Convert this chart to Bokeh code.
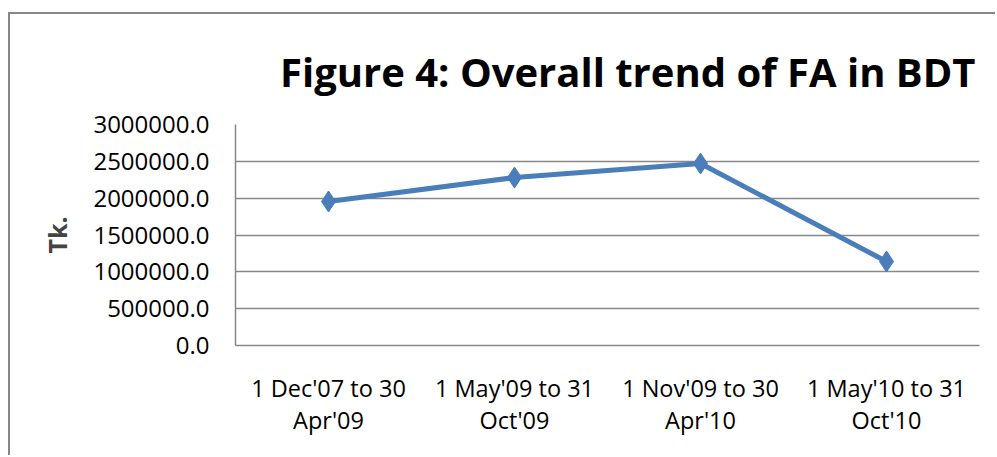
from bokeh.plotting import figure
from bokeh.models import FixedTicker, Range1d, ColumnDataSource
from bokeh.embed import file_html
from bokeh.resources import INLINE

categories = ["1 Dec'07 to 30\nApr'09", "1 May'09 to 31\nOct'09",
              "1 Nov'09 to 30\nApr'10", "1 May'10 to 31\nOct'10"]
values = [1955000.0, 2280000.0, 2470000.0, 1140000.0]
y_ticks = [0, 500000, 1000000, 1500000, 2000000, 2500000, 3000000]
title_text = "Figure 4: Overall trend of FA in BDT"
y_label = "Tk."

FONT = "Open Sans"
W, H = 987, 443

xs = [i + 0.5 for i in range(len(categories))]
src = ColumnDataSource(dict(x=xs, y=values))

p = figure(width=W, height=H, output_backend="svg", toolbar_location=None,
           x_range=Range1d(0, len(categories)), y_range=Range1d(0, 3000000),
           min_border_left=225, min_border_right=18, min_border_top=110,
           min_border_bottom=112, title=title_text)
p.styles = {"margin-top": "12px", "margin-left": "8px",
            "border-left": "2px solid #878787",
            "border-top": "2px solid #878787"}
p.outline_line_color = None
p.background_fill_color = "white"
p.border_fill_color = "white"

p.title.align = "right"
p.title.text_font = FONT
p.title.text_font_style = "bold"
p.title.text_font_size = "40px"
p.title.text_color = "black"
p.title.offset = 4
p.title.standoff = 52

p.xgrid.grid_line_color = None
p.ygrid.grid_line_color = "#878787"
p.ygrid.grid_line_width = 1.5

p.yaxis.ticker = FixedTicker(ticks=y_ticks)
p.yaxis.major_label_overrides = {t: f"{t:.1f}" for t in y_ticks}
p.yaxis.major_tick_line_color = None
p.yaxis.minor_tick_line_color = None
p.yaxis.axis_line_color = "#878787"
p.yaxis.axis_line_width = 1.5
p.yaxis.major_label_text_font = FONT
p.yaxis.major_label_text_font_size = "24px"
p.yaxis.major_label_text_color = "black"
p.yaxis.major_label_standoff = 20
p.yaxis.axis_label = y_label
p.yaxis.axis_label_text_font = FONT
p.yaxis.axis_label_text_font_style = "bold"
p.yaxis.axis_label_text_font_size = "25px"
p.yaxis.axis_label_standoff = 16

p.xaxis.ticker = FixedTicker(ticks=xs)
p.xaxis.major_label_overrides = {x: c for x, c in zip(xs, categories)}
p.xaxis.major_tick_line_color = None
p.xaxis.minor_tick_line_color = None
p.xaxis.axis_line_color = "#878787"
p.xaxis.axis_line_width = 1.5
p.xaxis.major_label_text_font = FONT
p.xaxis.major_label_text_font_size = "23.5px"
p.xaxis.major_label_text_color = "black"
p.xaxis.major_label_text_line_height = 1.0
p.xaxis.major_label_standoff = 20

p.line("x", "y", source=src, line_color="#4A7EBB", line_width=5)
p.scatter("x", "y", source=src, marker="diamond", size=21,
          fill_color="#4A7EBB", line_color="#4A7EBB")

open("out.html", "w").write(file_html(p, INLINE))
